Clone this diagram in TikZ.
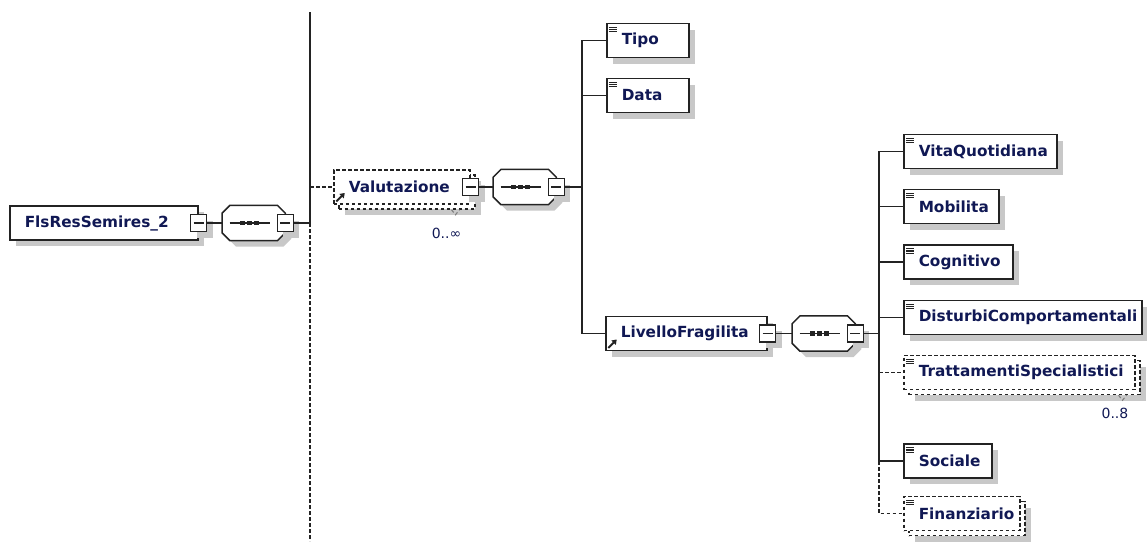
\documentclass[tikz,border=0pt]{standalone}
\usepackage{fontspec}
\newfontfamily\diagfont{DejaVu Sans}
\usetikzlibrary{arrows.meta}

\definecolor{labelblue}{RGB}{16,24,84}
\definecolor{boxline}{RGB}{35,35,35}
\definecolor{shadowgray}{RGB}{200,200,200}

\tikzset{
  base/.style={draw=boxline, fill=white, line width=1.5pt, inner sep=0pt},
  shadowed/.style={preaction={draw=none, fill=shadowgray, transform canvas={shift={(6pt,-6pt)}}}},
  elem/.style={base, anchor=west, minimum height=34pt, inner xsep=15pt, text width=#1, align=left,
    text=labelblue, font=\diagfont\bfseries\fontsize{15.3}{18}\selectfont},
  opt/.style={dash pattern=on 3.5pt off 2.5pt},
  leaf/.style={path picture={
    \foreach \k in {3.7,6,8.3}
      \draw[solid, line width=1.1pt, boxline] ([xshift=2pt,yshift=-\k pt]path picture bounding box.north west) -- ++(8.5pt,0pt);}},
  ref/.style={path picture={
    \draw[solid, line width=1.8pt, boxline, -{Triangle[length=4.5pt,width=6pt]}]
      ([xshift=2.5pt,yshift=2.5pt]path picture bounding box.south west) -- ++(8.5pt,8.5pt);}},
  minus/.style={base, shadowed, minimum width=16pt, minimum height=17pt, path picture={
    \draw[solid, line width=1.3pt, boxline] ([xshift=3pt]path picture bounding box.west) -- ([xshift=-3pt]path picture bounding box.east);}},
  seq/.style={anchor=west, minimum width=63pt, minimum height=35pt, inner sep=0pt},
  conn/.style={draw=boxline, line width=1.5pt},
  card/.style={anchor=north east, inner sep=0pt, text=labelblue, font=\diagfont\fontsize{14}{16}\selectfont},
  notch/.style={draw=gray, line width=1.1pt, opt},
}

\begin{document}
\begin{tikzpicture}[x=1pt,y=-1pt]
\useasboundingbox (0,0) rectangle (1147,541);

% root and its sequence
\node[elem=158, shadowed] (root) at (9,223) {FlsResSemires\_2};
\node[minus] (rootminus) at (root.east) {};
\node[seq] (seq1) at (222,223) {};
\coordinate (j1top) at (310,12);
\coordinate (j1bot) at (310,541);

% Valutazione (0..unbounded)
\node[elem=106, opt, shadowed] (valback) at (338,192) {};
\node[elem=106, opt, ref] (val) at (333,187) {Valutazione};
\node[minus] (valminus) at (val.east) {};
\draw[notch] ([xshift=-24pt]valback.south east) -- ++(4pt,-5pt) -- ++(4pt,5pt);
\node[card] (valcard) at ([xshift=-14pt,yshift=-18pt]valback.south east) {0..∞};
\node[seq] (seq2) at (493,187) {};
\coordinate (j2) at (582,187);

\node[elem=52, shadowed, leaf] (tipo) at (606,40.5) {Tipo};
\node[elem=52, shadowed, leaf] (data) at (606,95.5) {Data};
\node[elem=131, shadowed, ref] (lf) at (605,333.5) {LivelloFragilita};
\node[minus] (lfminus) at (lf.east) {};
\node[seq] (seq3) at (792,333.5) {};
\coordinate (j3) at (879,333.5);

% sequence octagons
\foreach \s in {seq1,seq2,seq3} {
  \draw[base, shadowed] ([xshift=8pt]\s.north west) -- ([xshift=-8pt]\s.north east)
    -- ([yshift=-8pt]\s.north east) -- ([yshift=8pt]\s.south east)
    -- ([xshift=-8pt]\s.south east) -- ([xshift=8pt]\s.south west)
    -- ([yshift=8pt]\s.south west) -- ([yshift=-8pt]\s.north west) -- cycle;
  \draw[line width=1.3pt, boxline] ([xshift=-24pt]\s.center) -- ([xshift=16pt]\s.center);
  \foreach \k in {-11,-4,3}
    \fill[boxline] ([xshift=\k pt]\s.center) +(-2.5pt,-2.2pt) rectangle +(2.5pt,2.2pt);
}
\node[minus] (seq1minus) at (seq1.east) {};
\node[minus] (seq2minus) at (seq2.east) {};
\node[minus] (seq3minus) at (seq3.east) {};

% children of LivelloFragilita
\node[elem=123, shadowed, leaf] (vita) at (903,151.5) {VitaQuotidiana};
\node[elem=65, shadowed, leaf] (mob) at (903,206.5) {Mobilita};
\node[elem=79, shadowed, leaf] (cog) at (903,262) {Cognitivo};
\node[elem=208, shadowed, leaf] (dist) at (903,317.5) {DisturbiComportamentali};
\node[elem=201, opt, shadowed] (trattback) at (908,377.5) {};
\node[elem=201, opt, leaf] (tratt) at (903,372.5) {TrattamentiSpecialistici};
\draw[notch] ([xshift=-22pt]trattback.south east) -- ++(4pt,-5pt) -- ++(4pt,5pt);
\node[card] (trattcard) at ([xshift=-12pt,yshift=-13pt]trattback.south east) {0..8};
\node[elem=58, shadowed, leaf] (soc) at (903,461) {Sociale};
\node[elem=86, opt, shadowed] (finback) at (908,518.5) {};
\node[elem=86, opt, leaf] (fin) at (903,513.5) {Finanziario};

% connectors
\draw[conn] (rootminus.east) -- (seq1.west);
\draw[conn] (seq1minus.east) -- (seq1minus.east -| j1top);
\draw[conn] (j1top) -- (j1top |- seq1minus.east);
\draw[conn, opt] (j1top |- seq1minus.east) -- (j1bot);
\draw[conn, opt] (val.west -| j1top) -- (val.west);
\draw[conn] (valminus.east) -- (seq2.west);
\draw[conn] (seq2minus.east) -- (j2);
\draw[conn] (tipo.west) -- (tipo.west -| j2) -- (lf.west -| j2) -- (lf.west);
\draw[conn] (data.west -| j2) -- (data.west);
\draw[conn] (lfminus.east) -- (seq3.west);
\draw[conn] (seq3minus.east) -- (j3);
\draw[conn] (vita.west) -- (vita.west -| j3) -- (soc.west -| j3) -- (soc.west);
\foreach \nm in {mob,cog,dist}
  \draw[conn] (\nm.west -| j3) -- (\nm.west);
\draw[conn, opt] (tratt.west -| j3) -- (tratt.west);
\draw[conn, opt] (soc.west -| j3) -- (fin.west -| j3) -- (fin.west);
\end{tikzpicture}
\end{document}
